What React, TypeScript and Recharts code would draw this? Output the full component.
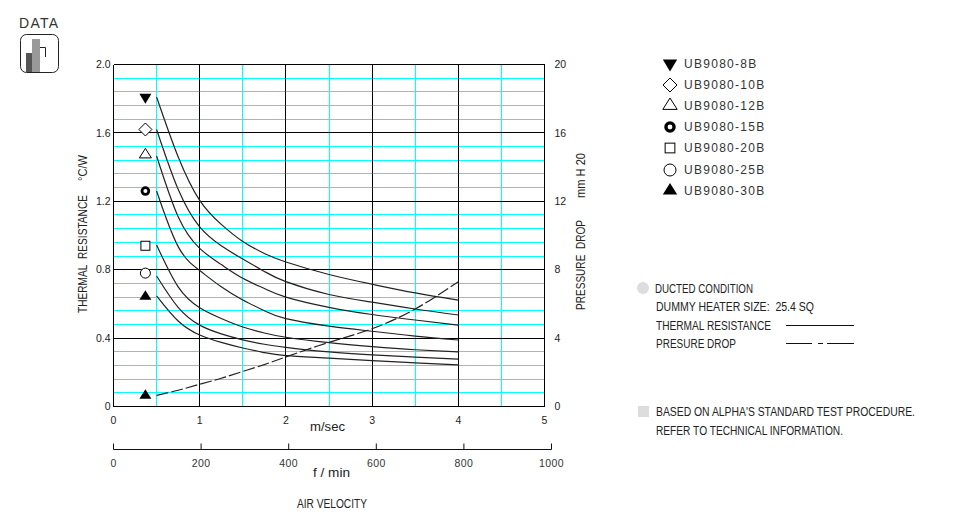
import { ComposedChart, Line, Scatter, XAxis, YAxis, ReferenceLine, Legend } from 'recharts';

const velocity = [0.5, 0.75, 1, 1.25, 1.5, 1.75, 2, 2.5, 3, 3.5, 4];
const ub8 = [1.81, 1.46, 1.205, 1.065, 0.965, 0.895, 0.845, 0.772, 0.715, 0.664, 0.622];
const ub10 = [1.62, 1.27, 1.05, 0.94, 0.862, 0.79, 0.73, 0.655, 0.61, 0.57, 0.535];
const ub12 = [1.465, 1.11, 0.925, 0.83, 0.75, 0.69, 0.64, 0.58, 0.538, 0.506, 0.476];
const ub15 = [1.26, 0.935, 0.795, 0.7, 0.623, 0.56, 0.514, 0.47, 0.44, 0.412, 0.389];
const ub20 = [0.945, 0.7, 0.578, 0.515, 0.465, 0.43, 0.405, 0.373, 0.35, 0.332, 0.319];
const ub25 = [0.763, 0.58, 0.476, 0.425, 0.39, 0.364, 0.346, 0.319, 0.302, 0.289, 0.277];
const ub30 = [0.647, 0.5, 0.418, 0.375, 0.342, 0.315, 0.297, 0.283, 0.268, 0.255, 0.243];
const pressure = [0.65, 0.95, 1.3, 1.65, 2.05, 2.45, 2.9, 3.75, 4.55, 5.7, 7.3];

const models = ['UB9080-8B', 'UB9080-10B', 'UB9080-12B', 'UB9080-15B', 'UB9080-20B', 'UB9080-25B', 'UB9080-30B'];
const glyphs = ['downFill', 'diamond', 'up', 'ring', 'square', 'circle', 'upFill'];
const markerX = 0.37;
const markerValues = [1.8, 1.62, 1.48, 1.26, 0.94, 0.78, 0.65];
const pressureMarker = 0.72;

const xTicks = [0, 1, 2, 3, 4, 5];
const fpmTicks = [0, 200, 400, 600, 800, 1000];
const resistanceTicks = [0, 0.4, 0.8, 1.2, 1.6, 2];
const pressureTicks = [0, 4, 8, 12, 16, 20];
const cyanX = [0.5, 1.5, 2.5, 3.5, 4.5];
const cyanY = [0.08, 0.16, 0.24, 0.32, 0.48, 0.56, 0.64, 0.72, 0.88, 0.96, 1.04, 1.12, 1.28, 1.36, 1.44, 1.52, 1.68, 1.76, 1.84, 1.92];

const seriesValues = [ub8, ub10, ub12, ub15, ub20, ub25, ub30];
const seriesKeys = ['b8', 'b10', 'b12', 'b15', 'b20', 'b25', 'b30'];

const rows = velocity.map((x, i) => {
  const row: Record<string, number> = { x, pressure: pressure[i] };
  seriesKeys.forEach((k, s) => {
    row[k] = seriesValues[s][i];
  });
  return row;
});
const fpmRows = fpmTicks.map((f) => ({ f, zero: 0 }));

const FONT = '"Liberation Sans", sans-serif';
const CYAN = '#00ffff';
const INK = '#111';

function Glyph({ kind, cx, cy, s = 1 }: { kind: string; cx: number; cy: number; s?: number }) {
  const t = `translate(${cx} ${cy}) scale(${s})`;
  switch (kind) {
    case 'downFill':
      return <path transform={t} d="M-6 -5H6L0 5Z" fill="#000" />;
    case 'upFill':
      return <path transform={t} d="M-6 4.5H6L0 -5Z" fill="#000" />;
    case 'up':
      return <path transform={t} d="M-6 4.5H6L0 -5Z" fill="#fff" stroke="#000" strokeWidth={1 / s} />;
    case 'diamond':
      return <path transform={t} d="M-6.5 0L0 -6.5L6.5 0L0 6.5Z" fill="#fff" stroke="#000" strokeWidth={1 / s} />;
    case 'ring':
      return <circle transform={t} r={3.4} fill="#fff" stroke="#000" strokeWidth={2.8} />;
    case 'square':
      return <rect transform={t} x={-4.5} y={-4.5} width={9} height={9} fill="#fff" stroke="#000" strokeWidth={1 / s} />;
    default:
      return <circle transform={t} r={5} fill="#fff" stroke="#000" strokeWidth={1 / s} />;
  }
}

function ModelLegend() {
  return (
    <div style={{ fontFamily: FONT, fontSize: 12, letterSpacing: 1.28, color: '#333' }}>
      {models.map((m, i) => (
        <div key={m} style={{ height: 21.1, display: 'flex', alignItems: 'center' }}>
          <svg width={22} height={20} style={{ display: 'block', overflow: 'visible' }}>
            <Glyph
              kind={glyphs[i]}
              cx={8}
              cy={glyphs[i] === 'downFill' ? 11.5 : glyphs[i].startsWith('up') ? 8 : 10}
              s={glyphs[i] === 'square' || glyphs[i] === 'diamond' ? 1.08 : 1.2}
            />
          </svg>
          <span>{m}</span>
        </div>
      ))}
    </div>
  );
}

function FpmTick({ x, y, payload }: any) {
  return (
    <g>
      <line x1={x} x2={x} y1={y - 6} y2={y} stroke={INK} />
      <text x={x} y={y + 17} textAnchor="middle" fontFamily={FONT} fontSize={10.5} letterSpacing={0.4} fill="#333">
        {payload.value}
      </text>
    </g>
  );
}

function Fit({ w, ...rest }: any) {
  return <text textLength={w} lengthAdjust="spacingAndGlyphs" {...rest} />;
}

function Notes() {
  return (
    <svg width={967} height={532} style={{ position: 'absolute', left: 0, top: 0, pointerEvents: 'none' }}>
      <text x={19} y={28} fontFamily={FONT} fontSize={14} letterSpacing={1.3} fill="#333">DATA</text>
      <rect x={20.5} y={34.5} width={38} height={38} rx={6} fill="none" stroke="#222" />
      <rect x={26} y={53} width={6} height={19} fill="#555" />
      <rect x={32} y={39} width={8} height={33} fill="#999" />
      <path d="M40 47.5H45.5V57" fill="none" stroke="#222" />

      <g fontFamily={FONT} fill="#222" fontSize={12.5}>
        <Fit w={118} transform="translate(87,313) rotate(-90)">THERMAL&#160;&#160;RESISTANCE</Fit>
        <Fit w={26} transform="translate(87,181) rotate(-90)">°C/W</Fit>
        <Fit w={90} transform="translate(585,310) rotate(-90)">PRESSURE&#160;&#160;DROP</Fit>
        <Fit w={45} transform="translate(585,198) rotate(-90)">mm H 20</Fit>
        <Fit w={35} x={310} y={431}>m/sec</Fit>
        <Fit w={37} x={313} y={477}>f / min</Fit>
        <Fit w={70} x={297} y={508}>AIR VELOCITY</Fit>

        <Fit w={98} x={655} y={293}>DUCTED CONDITION</Fit>
        <Fit w={158} x={656} y={311}>DUMMY HEATER SIZE:&#160;&#160;25.4 SQ</Fit>
        <Fit w={115} x={656} y={330}>THERMAL RESISTANCE</Fit>
        <Fit w={80} x={656} y={348}>PRESURE DROP</Fit>
        <Fit w={259} x={656} y={416}>BASED ON ALPHA'S STANDARD TEST PROCEDURE.</Fit>
        <Fit w={187} x={656} y={435}>REFER TO TECHNICAL INFORMATION.</Fit>
      </g>
      <circle cx={643} cy={288} r={6} fill="#ddd" />
      <rect x={638} y={406} width={11} height={11} fill="#ddd" />
      <line x1={786} x2={854} y1={325.5} y2={325.5} stroke={INK} />
      <line x1={786} x2={854} y1={343.5} y2={343.5} stroke={INK} strokeDasharray="26 6 5 4 27" />
    </svg>
  );
}

export default function App() {
  return (
    <div style={{ position: 'absolute', left: 0, top: 0, width: 967, height: 532, background: '#fff' }}>
      <ComposedChart
        width={967}
        height={532}
        data={rows}
        margin={{ top: 64.5, right: 392.5, bottom: 0, left: 83.5 }}
      >
        <XAxis
          xAxisId="v"
          dataKey="x"
          type="number"
          domain={[0, 5]}
          ticks={xTicks}
          interval={0}
          height={125.5}
          axisLine={false}
          tickLine={false}
          tickMargin={4}
          tick={{ fontFamily: FONT, fontSize: 10.5, fill: '#222' }}
        />
        <YAxis
          yAxisId="r"
          type="number"
          domain={[0, 2]}
          ticks={resistanceTicks}
          interval={0}
          width={30}
          axisLine={false}
          tickLine={false}
          tickMargin={-3}
          tickFormatter={(v: number) => (v === 0 ? '0' : v.toFixed(1))}
          tick={{ fontFamily: FONT, fontSize: 10.5, fill: '#222' }}
        />
        <YAxis
          yAxisId="p"
          orientation="right"
          type="number"
          domain={[0, 20]}
          ticks={pressureTicks}
          interval={0}
          width={30}
          axisLine={false}
          tickLine={false}
          tickMargin={4}
          tick={{ fontFamily: FONT, fontSize: 10.5, fill: '#222' }}
        />

        {cyanY.map((v) => (
          <ReferenceLine key={`cy${v}`} xAxisId="v" yAxisId="r" y={v} stroke={CYAN} shapeRendering="crispEdges" />
        ))}
        {cyanX.map((v) => (
          <ReferenceLine key={`cx${v}`} xAxisId="v" yAxisId="r" x={v} stroke={CYAN} shapeRendering="crispEdges" />
        ))}
        {resistanceTicks.map((v) => (
          <ReferenceLine key={`by${v}`} xAxisId="v" yAxisId="r" y={v} stroke="#000" shapeRendering="crispEdges" />
        ))}
        {xTicks.map((v) => (
          <ReferenceLine key={`bx${v}`} xAxisId="v" yAxisId="r" x={v} stroke="#000" shapeRendering="crispEdges" />
        ))}

        {seriesKeys.map((k, i) => (
          <Line
            key={k}
            xAxisId="v"
            yAxisId="r"
            dataKey={k}
            name={models[i]}
            type="natural"
            stroke="#222"
            strokeWidth={1.2}
            dot={false}
            isAnimationActive={false}
            legendType="none"
          />
        ))}
        <Line
          xAxisId="v"
          yAxisId="p"
          dataKey="pressure"
          type="natural"
          stroke="#222"
          strokeWidth={1.2}
          strokeDasharray="12 3"
          dot={false}
          isAnimationActive={false}
          legendType="none"
        />

        {models.map((m, i) => (
          <Scatter
            key={m}
            xAxisId="v"
            yAxisId="r"
            name={m}
            data={[{ x: markerX, y: markerValues[i] }]}
            dataKey="y"
            isAnimationActive={false}
            shape={(p: any) => <Glyph kind={glyphs[i]} cx={p.cx} cy={p.cy} />}
          />
        ))}
        <Scatter
          xAxisId="v"
          yAxisId="p"
          data={[{ x: markerX, y: pressureMarker }]}
          dataKey="y"
          isAnimationActive={false}
          shape={(p: any) => <Glyph kind="upFill" cx={p.cx} cy={p.cy} />}
        />

        <Legend
          layout="vertical"
          align="center"
          verticalAlign="middle"
          content={<ModelLegend />}
          wrapperStyle={{ left: 662, top: 53.5, width: 130, right: 'auto', bottom: 'auto', margin: 0 }}
        />
      </ComposedChart>

      {/* f/min scale runs a little past the plot, so it gets its own axis */}
      <div style={{ position: 'absolute', left: 0, top: 0 }}>
        <ComposedChart width={967} height={532} data={fpmRows} margin={{ top: 400, right: 415.5, bottom: 52.5, left: 113.5 }}>
          <XAxis
            xAxisId="f"
            dataKey="f"
            type="number"
            domain={[0, 1000]}
            ticks={fpmTicks}
            interval={0}
            height={30}
            tickLine={false}
            tickSize={0}
            tickMargin={0}
            axisLine={{ stroke: INK }}
            tick={(p: any) => <FpmTick {...p} />}
          />
          <YAxis hide yAxisId="f" />
          <Line xAxisId="f" yAxisId="f" dataKey="zero" stroke="none" dot={false} isAnimationActive={false} legendType="none" />
        </ComposedChart>
      </div>

      <Notes />
    </div>
  );
}
